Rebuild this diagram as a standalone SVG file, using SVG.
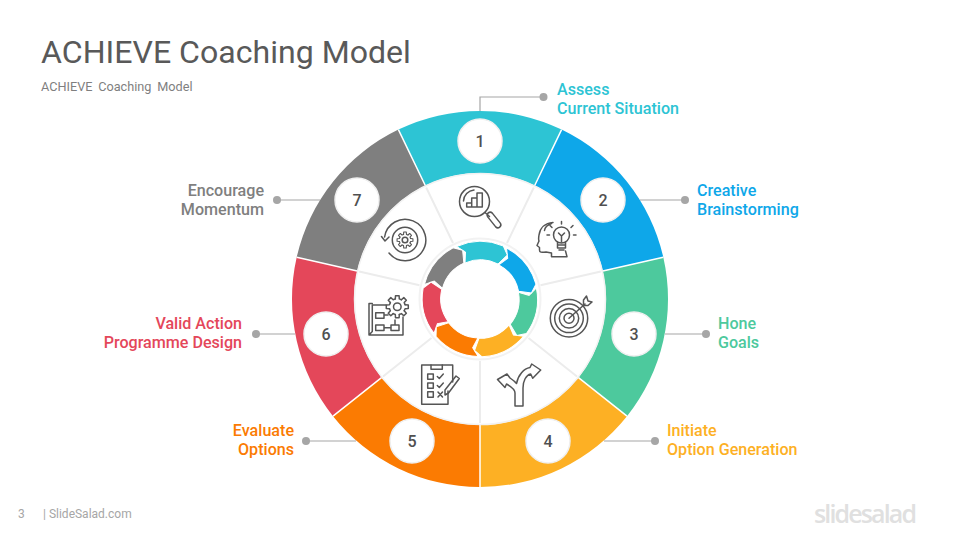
<svg xmlns="http://www.w3.org/2000/svg" width="960" height="540" viewBox="0 0 960 540">
<style>
text{font-family:Roboto,"Liberation Sans",sans-serif}
.lab{font-size:16.100px;font-weight:500}
.num{font-size:16px;font-weight:500;fill:#505050;text-anchor:middle}
.badge{fill:#fff;stroke:#efefef;stroke-width:1.5}
.con{stroke:#a6a6a6;stroke-width:1.2;fill:none}
.dot{fill:#a6a6a6}
.spoke{stroke:#ececec;stroke-width:2}
.ic{fill:none;stroke:#555;stroke-width:1.5;stroke-linecap:round;stroke-linejoin:round}
</style>
<defs>
<path id="arrow" d="M-23.3 -52.5A58 58 0 0 1 23.3 -53L27.3 -44L18 -35A39 39 0 0 0 -15 -36L-14.5 -47Z" stroke="#fff" stroke-width="1"/>
<path id="tooth" d="M-2 -7.800L-1.800 -11H1.800L2 -7.800L4.100 -6.930"/>
<g id="gear">
<use href="#tooth"/><use href="#tooth" transform="rotate(45)"/><use href="#tooth" transform="rotate(90)"/><use href="#tooth" transform="rotate(135)"/><use href="#tooth" transform="rotate(180)"/><use href="#tooth" transform="rotate(225)"/><use href="#tooth" transform="rotate(270)"/><use href="#tooth" transform="rotate(315)"/>
</g>
</defs>
<rect width="960" height="540" fill="#fff"/>
<text x="41" y="63" font-size="32.100" fill="#595959">ACHIEVE Coaching Model</text>
<text x="41" y="91" font-size="12.700" fill="#7f7f7f" word-spacing="2.600">ACHIEVE Coaching Model</text>
<text x="18" y="518" font-size="12" fill="#a6a6a6">3</text>
<text x="43" y="518" font-size="12" fill="#a6a6a6">| SlideSalad.com</text>
<text x="814" y="523" font-size="25" font-weight="600" fill="#e0e0e0" style="font-family:'Open Sans',sans-serif" textLength="103">slidesalad</text>
<g id="connectors">
<path class="con" d="M480 111V97H543"/><circle class="dot" cx="543.500" cy="97" r="4"/>
<path class="con" d="M640 200H685"/><circle class="dot" cx="685" cy="200" r="4"/>
<path class="con" d="M665 334H706"/><circle class="dot" cx="706" cy="334" r="4"/>
<path class="con" d="M604 441H655"/><circle class="dot" cx="655" cy="441" r="4"/>
<path class="con" d="M356 441H306"/><circle class="dot" cx="306" cy="441" r="4"/>
<path class="con" d="M295 334H256"/><circle class="dot" cx="256" cy="334" r="4"/>
<path class="con" d="M320 200H277"/><circle class="dot" cx="277" cy="200" r="4"/>
</g>
<g id="ring">
<path fill="#2dc4d4" d="M398.400 129.600A188 188 0 0 1 561.600 129.600L534.700 185.500A126 126 0 0 0 425.300 185.500Z"/>
<path fill="#0ea7e9" d="M561.600 129.600A188 188 0 0 1 663.300 257.200L602.800 271A126 126 0 0 0 534.700 185.500Z"/>
<path fill="#4dc99d" d="M663.300 257.200A188 188 0 0 1 627 416.200L578.500 377.600A126 126 0 0 0 602.800 271Z"/>
<path fill="#fdb024" d="M627 416.200A188 188 0 0 1 480 487V425A126 126 0 0 0 578.500 377.600Z"/>
<path fill="#fb7b02" d="M480 487A188 188 0 0 1 333 416.200L381.500 377.600A126 126 0 0 0 480 425Z"/>
<path fill="#e4475a" d="M333 416.200A188 188 0 0 1 296.700 257.200L357.200 271A126 126 0 0 0 381.500 377.600Z"/>
<path fill="#7f7f7f" d="M296.700 257.200A188 188 0 0 1 398.400 129.600L425.300 185.500A126 126 0 0 0 357.200 271Z"/>
<path stroke="#fff" stroke-width="1.500" d="M398.400 129.600L425.300 185.500M561.600 129.600L534.700 185.500M663.300 257.200L602.800 271M627 416.200L578.500 377.600M480 487V425M333 416.200L381.500 377.600M296.700 257.200L357.200 271"/>
<circle cx="480" cy="299" r="125.500" fill="#fff" stroke="#f2f2f2" stroke-width="1.500"/>
<path class="spoke" d="M533.800 187.500L507 243M600.800 271.500L540.500 285.200M577 376.500L528.500 338M480 423V361M383 376.500L431.500 338M359.200 271.500L419.500 285.200M426.200 187.500L453 243"/>
<circle cx="480" cy="299" r="60.500" fill="#fff" stroke="#f2f2f2" stroke-width="2"/>
<g transform="translate(480 299)">
<use href="#arrow" fill="#7f7f7f" transform="rotate(-51.43)"/>
<use href="#arrow" fill="#e4475a" transform="rotate(-102.86)"/>
<use href="#arrow" fill="#fb7b02" transform="rotate(-154.29)"/>
<use href="#arrow" fill="#fdb024" transform="rotate(154.29)"/>
<use href="#arrow" fill="#4dc99d" transform="rotate(102.86)"/>
<use href="#arrow" fill="#0ea7e9" transform="rotate(51.43)"/>
<use href="#arrow" fill="#2dc4d4"/>
</g>
</g>
<g id="node1"><circle class="badge" cx="480" cy="141" r="22"/><text class="num" x="480" y="147">1</text>
<text class="lab" x="557" y="94.500" fill="#2dc4d4">Assess</text><text class="lab" x="557" y="113.500" fill="#2dc4d4">Current Situation</text>
<g class="ic"><circle cx="474.500" cy="201.500" r="15"/><path d="M463.500 201A11.500 11.500 0 0 1 474 190M466.700 207H482.300M466.700 207V203H471.700V207M471.700 203V198H477V207M477 198V193H482.300V207M485 212.500L489.500 216.500M492.300 213.100L500.300 223.100A3 3 0 0 1 495.700 226.900L487.700 216.900A3 3 0 0 1 492.300 213.100Z"/></g></g>
<g id="node2"><circle class="badge" cx="603" cy="200" r="22"/><text class="num" x="603" y="206">2</text>
<text class="lab" x="697" y="195.500" fill="#0ea7e9">Creative</text><text class="lab" x="697" y="214.500" fill="#0ea7e9">Brainstorming</text>
<g class="ic"><circle cx="561.500" cy="235" r="8"/><path d="M557.500 242V248H565.500V242M557.500 245H565.500M559 250H564M558.500 233L561.500 236L564.500 233M561.500 236V242M561.500 221.500V224M550 225.500L552 227.500M573 225.500L571 227.500M547 235H549.500M576 235H573.500"/><path d="M553 222.500C545 223 540 228 539 235C538.500 238 538.500 240 539 241L537 245.500L539.500 247.500V250C539.500 252.500 541 252.500 546 252L551.500 253V256.700H567L565.500 251"/><path d="M551.500 223.500C547 225 545 227 544.500 230.500"/></g></g>
<g id="node3"><circle class="badge" cx="634" cy="334" r="22"/><text class="num" x="634" y="340">3</text>
<text class="lab" x="718" y="328.500" fill="#4dc99d">Hone</text><text class="lab" x="718" y="347.500" fill="#4dc99d">Goals</text>
<g class="ic"><circle cx="569" cy="318.300" r="18.700"/><circle cx="569" cy="318.300" r="14.300"/><circle cx="569" cy="318.300" r="9.700"/><circle cx="569" cy="318.300" r="5"/><path d="M569 318.300L585 304M583.500 305.500L583.500 300L586.500 296L588 301L592 302L588 305.500Z"/></g></g>
<g id="node4"><circle class="badge" cx="548" cy="441" r="22"/><text class="num" x="548" y="447">4</text>
<text class="lab" x="667" y="435.500" fill="#fdb024">Initiate</text><text class="lab" x="667" y="454.500" fill="#fdb024">Option Generation</text>
<g class="ic"><path d="M515 406V393C515 389 510 386 506.500 384L505 387.500L497.500 379.500L507 374L510 378C513 380 515 381.500 516.500 383.500C518 375 524 368.500 530 367.500L531.700 364L540.700 370L532.700 378.300L530.700 374C526 375 523 381 523 388V406Z"/></g></g>
<g id="node5"><circle class="badge" cx="412" cy="441" r="22"/><text class="num" x="412" y="447">5</text>
<text class="lab" x="294" y="435.500" fill="#fb7b02" text-anchor="end">Evaluate</text><text class="lab" x="294" y="454.500" fill="#fb7b02" text-anchor="end">Options</text>
<g class="ic"><path d="M448 391V404.300H421.700V365H452.700V382"/><path d="M431 365V369.300H442.300V365M427.700 374h5.600v5.300h-5.600zM427.700 383h5.600v5.300h-5.600zM427.700 391.700h5.600v5.600h-5.600zM437.300 376.500l2 2l4 -4.500M437.300 385.500l2 2l4 -4.500M438 392l4.500 5M442.500 392l-4.500 5M445 390L456 376L459.300 378.500L448.500 393L445 395Z"/></g></g>
<g id="node6"><circle class="badge" cx="326" cy="334" r="22"/><text class="num" x="326" y="340">6</text>
<text class="lab" x="242" y="328.500" fill="#e4475a" text-anchor="end">Valid Action</text><text class="lab" x="242" y="347.500" fill="#e4475a" text-anchor="end">Programme Design</text>
<g class="ic"><path d="M386 305H372.300V331.500L369 335V303.500L372.300 303.500M369 335H403V317"/><path d="M375.700 312.700h8.300v5.600h-8.300zM375.700 325h8.300v5.500h-8.300zM391 325h8v5.500h-8zM384 327.700H391M395 325V320M384 315H388"/><g transform="translate(397.300 306.700)"><use href="#gear"/></g><circle cx="397.300" cy="306.700" r="3.800"/></g></g>
<g id="node7"><circle class="badge" cx="357" cy="200" r="22"/><text class="num" x="357" y="206">7</text>
<text class="lab" x="264" y="195.500" fill="#7f7f7f" text-anchor="end">Encourage</text><text class="lab" x="264" y="214.500" fill="#7f7f7f" text-anchor="end">Momentum</text>
<g class="ic"><circle cx="405" cy="240" r="12.700"/><g transform="translate(405 240) scale(.72)"><use href="#gear"/></g><circle cx="405" cy="240" r="2.800"/><path d="M384.600 237A20.700 20.700 0 1 1 389 253M381.500 236.500L385 241L389 237"/></g></g>
</svg>
